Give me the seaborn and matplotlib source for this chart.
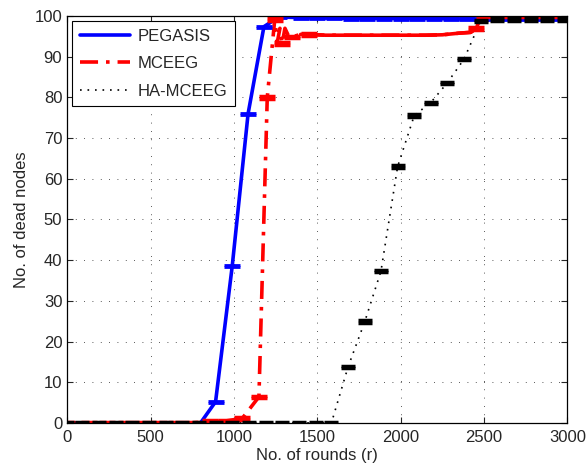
import matplotlib
matplotlib.use("Agg")
import matplotlib.pyplot as plt
import seaborn as sns
import pandas as pd

# PEGASIS
peg_x = [0, 100, 200, 300, 400, 500, 600, 700, 800, 890, 990, 1085, 1180, 1270,
         1400, 1500, 1600, 1700, 1800, 1900, 2000, 2100, 2200, 2300, 2400, 2500,
         2600, 2700, 2800, 2900, 3000]
peg_y = [0, 0, 0, 0, 0, 0, 0, 0, 0, 5.2, 38.6, 76, 97.4, 99.8,
         99.6, 99.5, 99.5, 99.4, 99.4, 99.4, 99.4, 99.4, 99.4, 99.3, 99.3, 99.3,
         99.3, 99.3, 99.3, 99.3, 99.3]

# MCEEG
mce_x = [0, 130, 240, 350, 450, 550, 650, 750, 855, 955, 1050, 1150, 1200, 1245,
         1260, 1276, 1290, 1306, 1330, 1350, 1400, 1450, 1550, 1650, 1750, 1850,
         1950, 2050, 2150, 2250, 2350, 2420, 2455, 2480, 2500, 2600, 2700, 2800,
         2900, 3000]
mce_y = [0, 0, 0, 0, 0, 0, 0, 0, 0.3, 0.5, 1.1, 6.4, 80, 99.2,
         93.5, 97, 93.3, 97, 94.9, 94.9, 95.5, 95.5, 95.3, 95.3, 95.3, 95.3,
         95.3, 95.3, 95.3, 95.4, 95.8, 96, 97, 100, 100, 100, 100, 100,
         100, 100]
mce_mark = [0, 130, 240, 350, 450, 550, 650, 750, 855, 955, 1050, 1150, 1200, 1245,
            1290, 1350, 1450, 2455, 2500, 2600, 2700, 2800, 2900]

# HA-MCEEG
ha_x = [0, 90, 190, 290, 390, 490, 590, 690, 790, 890, 990, 1090, 1190, 1290,
        1390, 1490, 1585, 1685, 1785, 1882, 1982, 2082, 2180, 2280, 2380, 2480,
        2580, 2680, 2780, 2880, 2980]
ha_y = [0, 0, 0, 0, 0, 0, 0, 0, 0, 0, 0, 0, 0, 0,
        0, 0, 0, 13.8, 24.9, 37.3, 63, 75.6, 78.7, 83.6, 89.4, 98.8,
        99.2, 99.2, 99.2, 99.2, 99.2]

peg = pd.DataFrame({"x": peg_x, "y": peg_y})
mce = pd.DataFrame({"x": mce_x, "y": mce_y})
ha = pd.DataFrame({"x": ha_x, "y": ha_y})

sns.set_style("ticks")
plt.rcParams["font.family"] = ["Liberation Sans", "DejaVu Sans"]

fig = plt.figure(figsize=(5.87, 4.73), dpi=100)
ax = fig.add_axes([0.1145, 0.106, 0.852, 0.86])

sns.lineplot(data=peg, x="x", y="y", ax=ax, color="#0000ff", lw=2.6,
             label="PEGASIS", sort=False)
sns.lineplot(data=mce, x="x", y="y", ax=ax, color="#ff0000", lw=2.6,
             label="MCEEG", sort=False)
sns.lineplot(data=ha, x="x", y="y", ax=ax, color="black", lw=1.2,
             label="HA-MCEEG", sort=False)
lines = ax.get_lines()
lines[1].set_linestyle((0, (5, 2.2, 1, 2.2)))
lines[2].set_linestyle((0, (1, 3.5)))

# dense flat stretch of MCEEG shows up as a solid stroke
flat = mce[mce["x"] >= 1400]
sns.lineplot(data=flat, x="x", y="y", ax=ax, color="#ff0000", lw=2.6,
             sort=False, legend=False)

# small error caps at the points
ax.errorbar(peg_x, peg_y, yerr=0.25, fmt="none", ecolor="#0000ff",
            elinewidth=1.5, capsize=6, capthick=2)
mk_y = [mce_y[mce_x.index(v)] for v in mce_mark]
ax.errorbar(mce_mark, mk_y, yerr=0.3, fmt="none", ecolor="#ff0000",
            elinewidth=2, capsize=6, capthick=2.5)
ax.errorbar(ha_x, ha_y, yerr=0.3, fmt="none", ecolor="black",
            elinewidth=2, capsize=5, capthick=2.5)

ax.set_xlim(0, 3000)
ax.set_ylim(0, 100)
ax.set_xticks([0, 500, 1000, 1500, 2000, 2500, 3000])
ax.set_yticks(range(0, 101, 10))
ax.grid(True, color="#222222", linestyle=(0, (1, 9)), linewidth=0.6)
ax.tick_params(direction="in", top=True, right=True, labelsize=12, length=4,
               width=0.8)
ax.tick_params(axis="x", pad=5)
for s in ax.spines.values():
    s.set_visible(True)
    s.set_linewidth(0.9)
    s.set_color("black")

ax.set_xlabel("No. of rounds (r)", fontsize=12, labelpad=2)
ax.set_ylabel("No. of dead nodes", fontsize=12, labelpad=4)

leg = ax.legend(loc="upper left", fontsize=12, handlelength=3.0,
                fancybox=False, framealpha=1, edgecolor="black",
                borderaxespad=0.3, labelspacing=0.75, handletextpad=0.5,
                borderpad=0.45)
leg.get_frame().set_linewidth(0.8)

fig.savefig("out.png", dpi=100)
